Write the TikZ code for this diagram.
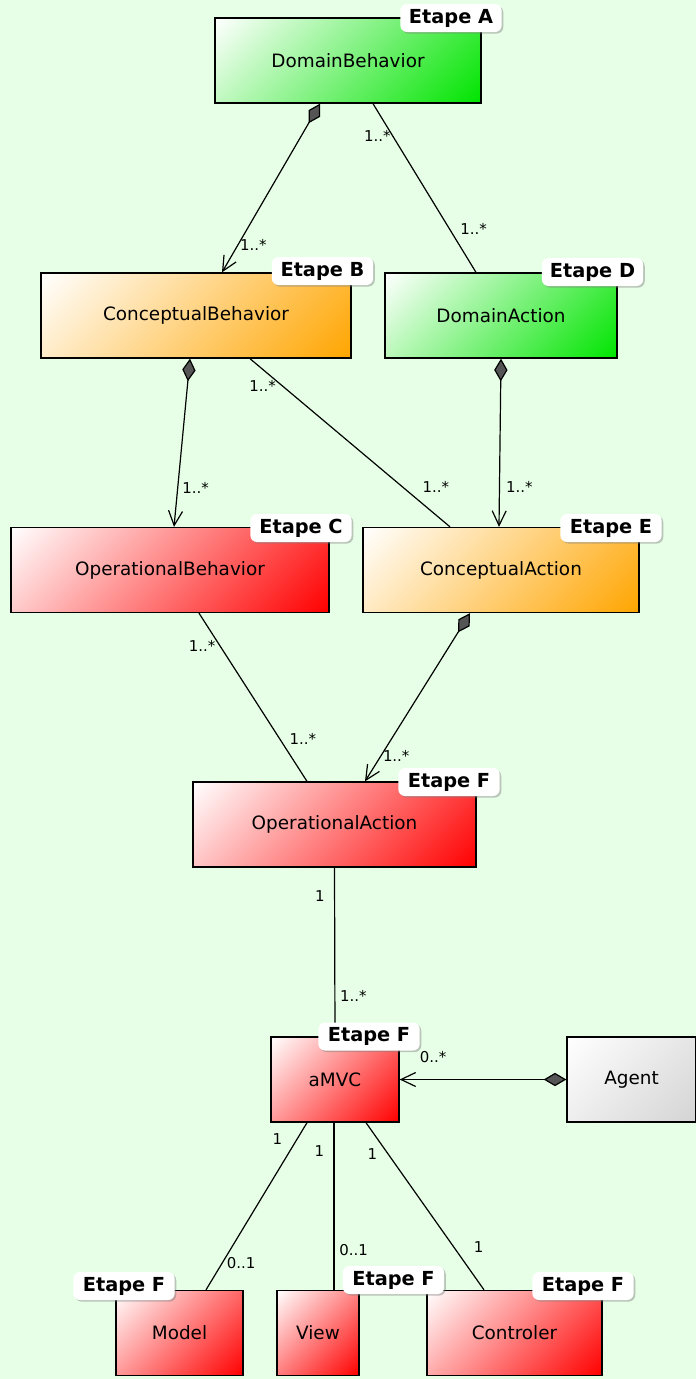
\documentclass[tikz,border=0pt]{standalone}
\usepackage{fontspec}
\setmainfont{DejaVu Sans}
\usepackage{xcolor}
\usepackage{tikz}
\usetikzlibrary{arrows.meta,calc,shadows}

\definecolor{bgcol}{HTML}{E6FFE6}
\definecolor{greencol}{HTML}{00E400}
\definecolor{orangecol}{HTML}{FFA500}
\definecolor{redcol}{HTML}{FF0000}
\definecolor{greycol}{HTML}{D4D4D4}
\definecolor{diamondcol}{HTML}{555555}
\colorlet{boxcol}{redcol}
\pgfdeclareverticalshading[boxcol]{diagfade}{100bp}{color(0bp)=(boxcol); color(14.6bp)=(boxcol); color(85.4bp)=(white); color(100bp)=(white)}

\begin{document}
\begin{tikzpicture}[
  x=0.75pt,y=-0.75pt,
  classbox/.style={draw,line width=1pt,/utils/exec={\colorlet{boxcol}{#1}},shading=diagfade,shading angle=45,minimum height=63.75pt,font=\fontsize{13.8}{16}\selectfont},
  tag/.style={fill=white,rounded corners=5pt,minimum width=76pt,minimum height=21pt,inner sep=2pt,font=\fontsize{14.5}{16}\selectfont\bfseries,drop shadow={opacity=0.45,shadow xshift=1.2pt,shadow yshift=-1.2pt}},
  mult/.style={font=\fontsize{11.2}{12}\selectfont,inner sep=1pt},
  assoc/.style={line width=0.9pt},
  compo/.style={line width=0.9pt,{Diamond[length=17pt,width=10pt,fill=diamondcol]}-{Straight Barb[length=11pt,width=10.5pt]}}
]
\fill[bgcol] (0,0) rectangle (696,1379);
\useasboundingbox (0,0) rectangle (696,1379);

\node[classbox=greencol,minimum width=199.5pt] (dombeh) at (348,60.5) {DomainBehavior};
\node[classbox=orangecol,minimum width=232.5pt] (conbeh) at (196,315.5) {ConceptualBehavior};
\node[classbox=greencol,minimum width=174pt] (domact) at (501,315.5) {DomainAction};
\node[classbox=redcol,minimum width=238.5pt] (opbeh) at (170,570) {OperationalBehavior};
\node[classbox=orangecol,minimum width=207pt] (conact) at (501,570) {ConceptualAction};
\node[classbox=redcol,minimum width=212.25pt] (opact) at (334.5,824.5) {OperationalAction};
\node[classbox=redcol,minimum width=96pt] (amvc) at (335,1079.5) {aMVC};
\node[classbox=greycol,minimum width=96.75pt] (agent) at (631.5,1079.5) {Agent};
\node[classbox=redcol,minimum width=95.25pt] (model) at (179.5,1333) {Model};
\node[classbox=redcol,minimum width=61.5pt] (view) at (318,1333) {View};
\node[classbox=redcol,minimum width=131.25pt] (ctrl) at (514.5,1333) {Controler};

\draw[compo] ($(dombeh.south)+(-28,0)$) -- node[mult,pos=0.835,right]{1..*} ($(conbeh.north)+(26,0)$);
\draw[assoc] ($(dombeh.south)+(25,0)$) -- node[mult,pos=0.19,left]{1..*} node[mult,pos=0.74,right=7pt]{1..*} ($(domact.north)+(-25,0)$);
\draw[compo] ($(conbeh.south)+(-6,0)$) -- node[mult,pos=0.77,right=2pt]{1..*} ($(opbeh.north)+(4,0)$);
\draw[assoc] ($(conbeh.south)+(54,0)$) -- node[mult,pos=0.165,left=4pt]{1..*} node[mult,pos=0.76,right=14pt]{1..*} ($(conact.north)+(-51,0)$);
\draw[compo] (domact.south) -- node[mult,pos=0.765,right=3.5pt]{1..*} ($(conact.north)+(-2,0)$);
\draw[assoc] ($(opbeh.south)+(29,0)$) -- node[mult,pos=0.194,left=2pt]{1..*} node[mult,pos=0.747,right=6pt]{1..*} ($(opact.north)+(-27.5,0)$);
\draw[compo] ($(conact.south)+(-31,0)$) -- node[mult,pos=0.847,right]{1..*} ($(opact.north)+(30.5,0)$);
\draw[assoc] (opact.south) -- node[mult,pos=0.17,left=6pt]{1} node[mult,pos=0.76,right=2.5pt]{1..*} (amvc.north);
\draw[compo] (agent.west) -- node[mult,pos=0.8,above=11pt]{0..*} (amvc.east);
\draw[assoc] ($(amvc.south)+(-28,0)$) -- node[mult,pos=0.095,left=10pt]{1} node[mult,pos=0.84,right=2pt]{0..1} ($(model.north)+(26.5,0)$);
\draw[assoc] ($(amvc.south)+(-1,0)$) -- node[mult,pos=0.17,left=6pt]{1} node[mult,pos=0.76,right=2.5pt]{0..1} ($(view.north)+(16,0)$);
\draw[assoc] ($(amvc.south)+(31,0)$) -- node[mult,pos=0.19,left=7pt]{1} node[mult,pos=0.746,right=13.5pt]{1} ($(ctrl.north)+(-30.5,0)$);

\node[tag] (tagA) at (451,18) {Etape A};
\node[tag] (tagB) at (322.5,271) {Etape B};
\node[tag] (tagD) at (592.5,272) {Etape D};
\node[tag] (tagC) at (301,528) {Etape C};
\node[tag] (tagE) at (611,528) {Etape E};
\node[tag] (tagF1) at (449,782) {Etape F};
\node[tag] (tagF2) at (369,1036.5) {Etape F};
\node[tag] (tagF3) at (124,1286) {Etape F};
\node[tag] (tagF4) at (393.5,1280) {Etape F};
\node[tag] (tagF5) at (583,1286) {Etape F};
\end{tikzpicture}
\end{document}
